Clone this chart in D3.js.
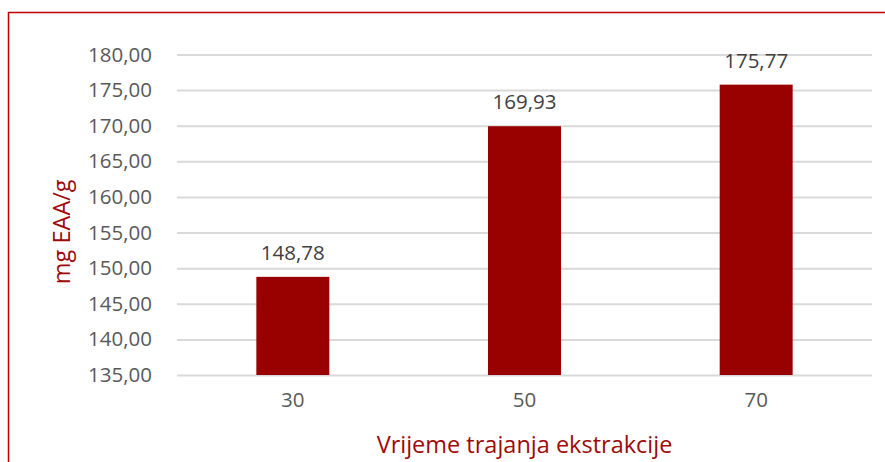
<!DOCTYPE html>
<html>
<head>
<meta charset="utf-8">
<script src="https://cdn.jsdelivr.net/npm/d3@7"></script>
<style>
    body { margin: 0; background: #fff; }
    svg { display: block; font-family: "Open Sans", sans-serif; }
</style>
</head>
<body>
<svg id="chart" width="885" height="462"></svg>
<script>
const categories = ['30', '50', '70'];
const values = [148.78, 169.93, 175.77];
const y_ticks = [135, 140, 145, 150, 155, 160, 165, 170, 175, 180];

const fmt = v => d3.format('.2f')(v).replace('.', ',');

function draw_chart() {
    const svg = d3.select('#chart');
    const left = 177;
    const right = 872;
    const top = 54.5;
    const bottom = 375;

    // outer frame of the chart area
    svg.append('rect')
        .attr('x', 8.5)
        .attr('y', 12.5)
        .attr('width', 900)
        .attr('height', 500)
        .attr('fill', 'none')
        .attr('stroke', '#c00000')
        .attr('stroke-width', 1.5);

    const x = d3.scaleBand()
        .domain(categories)
        .range([left, right])
        .paddingInner(0.685)
        .paddingOuter(0.3425);

    const y = d3.scaleLinear()
        .domain([135, 180])
        .range([bottom, top]);

    const y_axis = svg.append('g')
        .attr('transform', `translate(${left},0)`)
        .call(
            d3.axisLeft(y)
                .tickValues(y_ticks)
                .tickFormat(fmt)
                .tickSize(-(right - left))
                .tickPadding(25)
        );
    y_axis.select('.domain').remove();
    y_axis.selectAll('line')
        .attr('stroke', '#d9d9d9')
        .attr('stroke-width', 2);
    y_axis.selectAll('text')
        .attr('fill', '#595959')
        .style('font-size', '20.5px')
        .style('font-family', '"Open Sans", sans-serif');

    svg.append('g')
        .selectAll('rect')
        .data(values)
        .join('rect')
        .attr('x', (d, i) => x(categories[i]))
        .attr('y', d => y(d))
        .attr('width', x.bandwidth())
        .attr('height', d => y(135) - y(d))
        .attr('fill', '#990000');

    svg.append('g')
        .selectAll('text')
        .data(values)
        .join('text')
        .attr('x', (d, i) => x(categories[i]) + x.bandwidth() / 2)
        .attr('y', d => y(d) - 17)
        .attr('text-anchor', 'middle')
        .attr('fill', '#404040')
        .style('font-size', '20.5px')
        .text(d => fmt(d));

    const x_axis = svg.append('g')
        .attr('transform', `translate(0,${bottom})`)
        .call(d3.axisBottom(x).tickSize(0).tickPadding(17));
    x_axis.select('.domain').remove();
    x_axis.selectAll('text')
        .attr('fill', '#595959')
        .style('font-size', '20.5px')
        .style('font-family', '"Open Sans", sans-serif');

    svg.append('text')
        .attr('x', (left + right) / 2)
        .attr('y', 453)
        .attr('text-anchor', 'middle')
        .attr('fill', '#9c0a0a')
        .style('font-size', '23.5px')
        .text('Vrijeme trajanja ekstrakcije');

    svg.append('text')
        .attr('transform', `translate(70,${(top + bottom) / 2 + 17}) rotate(-90)`)
        .attr('text-anchor', 'middle')
        .attr('fill', '#9c0a0a')
        .style('font-size', '23.5px')
        .text('mg EAA/g');
}

draw_chart();
</script>
</body>
</html>
